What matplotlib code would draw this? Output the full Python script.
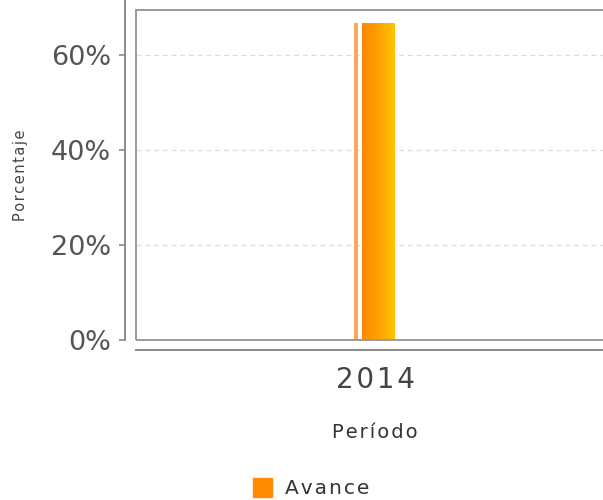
import numpy as np
from matplotlib import pyplot as plt
from matplotlib import patches as patches
from matplotlib.colors import LinearSegmentedColormap

categories = ["2014"]
avance = [66.67]
y_ticks = [0, 20, 40, 60]
y_tick_labels = ["0%", "20%", "40%", "60%"]


def spaced(s, sp="\u200a"):
    # the reference font is drawn with wide letter spacing
    return sp.join(s)


fig = plt.figure(figsize=(6.03, 5), dpi=100)
ax = fig.add_axes([136 / 603, 1 - 340 / 500, 1 - 136 / 603, 330 / 500])

x = np.arange(len(categories))

# thin lighter bar on the left, then main gradient bar
ax.bar(x - 0.04, avance, width=0.0085, color="#f8a85a", linewidth=0, zorder=2)
bars = ax.bar(x + 0.006, avance, width=0.067, color="#ff9a00", linewidth=0, zorder=2)

grad = np.linspace(0, 1, 100).reshape(1, -1)
cmap = LinearSegmentedColormap.from_list("og", ["#ff8800", "#ffa000", "#ffc400"])
for b in bars:
    x0 = b.get_x()
    x1 = x0 + b.get_width()
    im = ax.imshow(grad, cmap=cmap, extent=(x0, x1, 0, b.get_height()), aspect="auto", zorder=3)
    im.set_clip_path(b)

ax.set_xlim(-0.5, 0.477)
ax.set_ylim(0, 69.5)

for t in y_ticks[1:]:
    ax.axhline(t, color="#dddddd", linestyle=(0, (4, 3)), linewidth=0.9, zorder=1)

# frame around the plot area
ax.add_patch(patches.Rectangle((0, 0), 1.2, 1, transform=ax.transAxes, fill=False,
                               edgecolor="#9a9a9a", linewidth=1.4, clip_on=False, zorder=4))

for s in ["top", "right"]:
    ax.spines[s].set_visible(False)
ax.spines["left"].set_position(("outward", 8))
ax.spines["bottom"].set_position(("outward", 7.5))
ax.spines["left"].set_bounds(0, 71.6)
ax.spines["left"].set_color("#8a8a8a")
ax.spines["bottom"].set_color("#8a8a8a")
ax.spines["left"].set_linewidth(1.4)
ax.spines["bottom"].set_linewidth(1.4)

ax.set_yticks(y_ticks)
ax.set_yticklabels(y_tick_labels)
ax.set_xticks(x)
ax.set_xticklabels([spaced(c) for c in categories])
ax.tick_params(axis="y", colors="#8a8a8a", labelcolor="#555555", labelsize=19.5, length=4, width=1.2, pad=6)
ax.tick_params(axis="x", length=0, labelcolor="#444444", labelsize=20, pad=11)

ax.set_ylabel(spaced("Porcentaje"), fontsize=10.5, color="#444444")
ax.yaxis.set_label_coords(-0.231, 0.5)
ax.set_xlabel(spaced("Período"), fontsize=14, color="#333333")
ax.xaxis.set_label_coords(0.512, -0.25)

fig.patches.append(patches.Rectangle((253 / 603, 1 - 497 / 500), 19 / 603, 19 / 500,
                                     transform=fig.transFigure, color="#ff8c00"))
fig.text(285 / 603, 1 - 488 / 500, spaced("Avance"), fontsize=14.5, color="#333333", va="center")

plt.savefig("out.png", dpi=100)
